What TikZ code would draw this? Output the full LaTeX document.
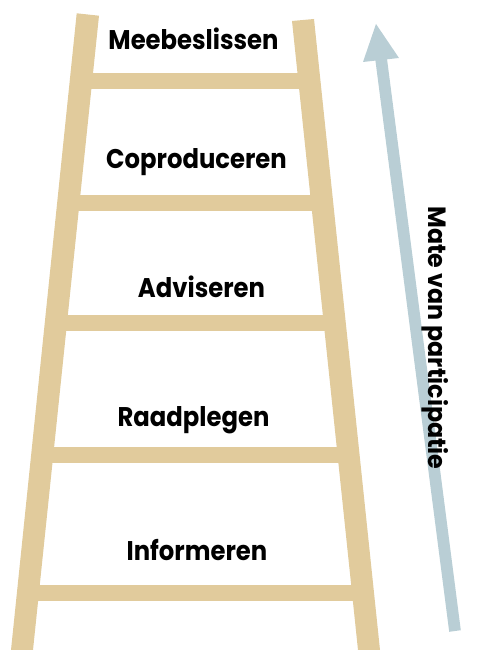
\documentclass[tikz,border=0pt]{standalone}
\usepackage{fontspec}
\setmainfont{Poppins}
\newfontfamily\lblfont{Poppins}[FakeStretch=0.9]
\newfontfamily\sidefont{Poppins}[FakeStretch=0.95]
\definecolor{ladder}{HTML}{E1CB9C}
\definecolor{arrowc}{HTML}{B9CED5}
\begin{document}
\begin{tikzpicture}[x=1pt,y=-1pt,
  rail/.style={fill=ladder,draw=none},
  rung/.style={fill=ladder,draw=none},
  lbl/.style={anchor=base,font=\lblfont\fontsize{27}{30}\selectfont\bfseries,inner sep=0pt},
  side/.style={font=\sidefont\fontsize{25}{28}\selectfont\bfseries,inner sep=0pt,rotate=-90}]
\useasboundingbox (0,0) rectangle (478,650);
% rungs
\fill[rung] (80,73) rectangle (305,89);
\fill[rung] (70,195) rectangle (318,211);
\fill[rung] (55,315) rectangle (330,331);
\fill[rung] (45,447) rectangle (345,463);
\fill[rung] (30,585) rectangle (360,601);
% rails
\fill[rail] (76.7,13.3) -- (99,15.7) -- (33,650) -- (11,650) -- cycle;
\fill[rail] (292,21) -- (314,19) -- (380,650) -- (358,650) -- cycle;
% arrow
\fill[arrowc] (449.2,631.8) -- (375.2,58.8) -- (386.8,57.2) -- (460.8,630.2) -- cycle;
\fill[arrowc] (376,24) -- (399,58) -- (363,62) -- cycle;
% labels
\node[lbl] (m) at (193.5,50) {Meebeslissen};
\node[lbl] (c) at (196.5,168) {Coproduceren};
\node[lbl] (a) at (201.5,297) {Adviseren};
\node[lbl] (r) at (193.5,426.7) {Raadplegen};
\node[lbl] (i) at (197,560) {Informeren};
\node[side] (s) at (435,338) {Mate van participatie};
\end{tikzpicture}
\end{document}
